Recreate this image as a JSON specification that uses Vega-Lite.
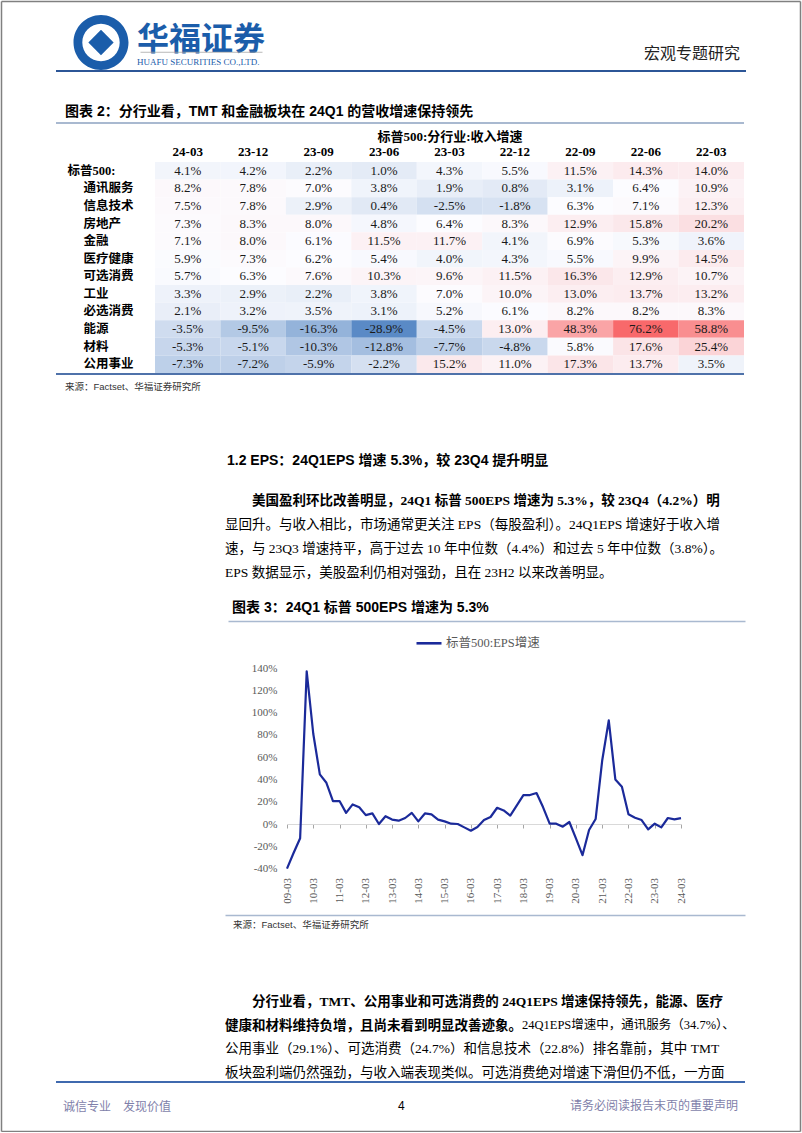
{
"$schema": "https://vega.github.io/schema/vega-lite/v6.json",
"background": "white",
"padding": {"left": 1, "top": 1, "right": 0, "bottom": 0},
"bounds": "flush",
"spacing": 0,
"config": {
  "view": {"stroke": null},
  "locale": {"number": {"decimal": ".", "thousands": ",", "grouping": [3], "currency": ["$", ""], "minus": "-"}},
  "title": {"orient": "bottom", "anchor": "start", "frame": "group", "baseline": "top", "limit": 1000, "offset": 0,
    "font": "Liberation Serif, Noto Sans CJK SC", "fontSize": 13.5, "fontWeight": "normal", "color": "#000000",
    "subtitleFont": "Liberation Serif, Noto Sans CJK SC", "subtitleFontSize": 13.5, "subtitleColor": "#000000",
    "subtitleLineHeight": 24, "lineHeight": 24}
},
"vconcat": [
  {"width": 744, "height": 0.001, "data": {"values": [{}]},
   "encoding": {
     "x": {"datum": 0.5, "type": "quantitative", "scale": {"domain": [0, 1], "range": [-55, 744]}},
     "y": {"datum": 0.5, "type": "quantitative", "scale": {"domain": [0, 1], "range": [0, 1130]}}
   },
   "layer": [
     {"mark": {"type": "point", "opacity": 0, "size": 0},
      "encoding": {
        "x": {"datum": 0.5, "type": "quantitative", "axis": {"orient": "top", "minExtent": 0, "maxExtent": 0, "domainColor": "#808080", "domainWidth": 1.5, "ticks": false, "labels": false, "grid": false, "title": null}},
        "y": {"datum": 0.5, "type": "quantitative", "axis": {"orient": "left", "offset": 55, "minExtent": 0, "maxExtent": 0, "domainColor": "#808080", "domainWidth": 1.5, "ticks": false, "labels": false, "grid": false, "title": null}}}},
     {"mark": {"type": "point", "opacity": 0, "size": 0},
      "encoding": {
        "x": {"datum": 0.5, "type": "quantitative", "axis": {"orient": "bottom", "offset": 1130, "minExtent": 0, "maxExtent": 0, "domainColor": "#808080", "domainWidth": 1.5, "ticks": false, "labels": false, "grid": false, "title": null}},
        "y": {"datum": 0.5, "type": "quantitative", "axis": {"orient": "right", "offset": 0, "minExtent": 0, "maxExtent": 0, "domainColor": "#808080", "domainWidth": 1.5, "ticks": false, "labels": false, "grid": false, "title": null}}}}
   ],
   "resolve": {"axis": {"x": "independent", "y": "independent"}}},
  {"width": 690, "height": 12, "data": {"values": []}, "mark": "rule", "encoding": {}},
  {"width": 690, "height": 0.001, "data": {"values": []}, "mark": "rule", "encoding": {},
   "title": {"text": "华福证券", "subtitle": "HUAFU SECURITIES CO.,LTD.", "dx": 81, "offset": 11.4, "font": "Noto Sans CJK SC", "fontSize": 32, "fontWeight": "bold", "color": "#1B5DAA", "subtitleFont": "Liberation Serif", "subtitleFontSize": 9, "subtitleColor": "#1B5DAA", "subtitlePadding": 1}},
  {"width": 90, "height": 55, "data": {"values": [{}]},
   "layer": [
     {"mark": {"type": "point", "shape": "M1,0A1,1,0,1,1,-1,0A1,1,0,1,1,1,0ZM0.68,0A0.68,0.68,0,1,0,-0.68,0A0.68,0.68,0,1,0,0.68,0ZM0,-0.46L0.46,0L0,0.46L-0.46,0Z", "filled": true, "size": 3025, "color": "#1B5DAA", "opacity": 1, "strokeWidth": 0},
      "encoding": {}},
     {"mark": {"type": "point", "opacity": 0, "size": 0},
      "encoding": {"x": {"datum": 0.5, "type": "quantitative", "scale": {"domain": [0, 1], "range": [84, 206]}, "axis": {"orient": "bottom", "offset": -18.25, "domainColor": "#A6A6A6", "domainWidth": 0.8, "ticks": false, "labels": false, "grid": false, "title": null}}}}
   ]},
  {"width": 690, "height": 2, "view": {"fill": "#2C5697", "stroke": null}, "data": {"values": []}, "mark": "rule", "encoding": {},
   "title": {"text": "宏观专题研究", "dx": 588, "offset": -25.6, "font": "Noto Sans CJK SC", "fontSize": 16, "color": "#222222"}},
  {"width": 690, "height": 50, "data": {"values": []}, "mark": "rule", "encoding": {},
   "title": {"text": "图表 2：分行业看，TMT 和金融板块在 24Q1 的营收增速保持领先", "dx": 9, "offset": -17.4, "font": "Liberation Sans, Noto Sans CJK SC", "fontSize": 14, "fontWeight": "bold"}},
  {"width": 688, "height": 2, "view": {"fill": "#A9B9D0", "stroke": null}, "data": {"values": []}, "mark": "rule", "encoding": {}},
  {"width": 688, "height": 38, "data": {"values": []}, "mark": "rule", "encoding": {}},
  {"width": 688, "height": 211,
   "data": {"values": [
    {"s":"标普500:","p":"24-03","v":0.041},{"s":"标普500:","p":"23-12","v":0.042},{"s":"标普500:","p":"23-09","v":0.022},{"s":"标普500:","p":"23-06","v":0.010},{"s":"标普500:","p":"23-03","v":0.043},{"s":"标普500:","p":"22-12","v":0.055},{"s":"标普500:","p":"22-09","v":0.115},{"s":"标普500:","p":"22-06","v":0.143},{"s":"标普500:","p":"22-03","v":0.140},
    {"s":"通讯服务","p":"24-03","v":0.082},{"s":"通讯服务","p":"23-12","v":0.078},{"s":"通讯服务","p":"23-09","v":0.070},{"s":"通讯服务","p":"23-06","v":0.038},{"s":"通讯服务","p":"23-03","v":0.019},{"s":"通讯服务","p":"22-12","v":0.008},{"s":"通讯服务","p":"22-09","v":0.031},{"s":"通讯服务","p":"22-06","v":0.064},{"s":"通讯服务","p":"22-03","v":0.109},
    {"s":"信息技术","p":"24-03","v":0.075},{"s":"信息技术","p":"23-12","v":0.078},{"s":"信息技术","p":"23-09","v":0.029},{"s":"信息技术","p":"23-06","v":0.004},{"s":"信息技术","p":"23-03","v":-0.025},{"s":"信息技术","p":"22-12","v":-0.018},{"s":"信息技术","p":"22-09","v":0.063},{"s":"信息技术","p":"22-06","v":0.071},{"s":"信息技术","p":"22-03","v":0.123},
    {"s":"房地产","p":"24-03","v":0.073},{"s":"房地产","p":"23-12","v":0.083},{"s":"房地产","p":"23-09","v":0.080},{"s":"房地产","p":"23-06","v":0.048},{"s":"房地产","p":"23-03","v":0.064},{"s":"房地产","p":"22-12","v":0.083},{"s":"房地产","p":"22-09","v":0.129},{"s":"房地产","p":"22-06","v":0.158},{"s":"房地产","p":"22-03","v":0.202},
    {"s":"金融","p":"24-03","v":0.071},{"s":"金融","p":"23-12","v":0.080},{"s":"金融","p":"23-09","v":0.061},{"s":"金融","p":"23-06","v":0.115},{"s":"金融","p":"23-03","v":0.117},{"s":"金融","p":"22-12","v":0.041},{"s":"金融","p":"22-09","v":0.069},{"s":"金融","p":"22-06","v":0.053},{"s":"金融","p":"22-03","v":0.036},
    {"s":"医疗健康","p":"24-03","v":0.059},{"s":"医疗健康","p":"23-12","v":0.073},{"s":"医疗健康","p":"23-09","v":0.062},{"s":"医疗健康","p":"23-06","v":0.054},{"s":"医疗健康","p":"23-03","v":0.040},{"s":"医疗健康","p":"22-12","v":0.043},{"s":"医疗健康","p":"22-09","v":0.055},{"s":"医疗健康","p":"22-06","v":0.099},{"s":"医疗健康","p":"22-03","v":0.145},
    {"s":"可选消费","p":"24-03","v":0.057},{"s":"可选消费","p":"23-12","v":0.063},{"s":"可选消费","p":"23-09","v":0.076},{"s":"可选消费","p":"23-06","v":0.103},{"s":"可选消费","p":"23-03","v":0.096},{"s":"可选消费","p":"22-12","v":0.115},{"s":"可选消费","p":"22-09","v":0.163},{"s":"可选消费","p":"22-06","v":0.129},{"s":"可选消费","p":"22-03","v":0.107},
    {"s":"工业","p":"24-03","v":0.033},{"s":"工业","p":"23-12","v":0.029},{"s":"工业","p":"23-09","v":0.022},{"s":"工业","p":"23-06","v":0.038},{"s":"工业","p":"23-03","v":0.070},{"s":"工业","p":"22-12","v":0.100},{"s":"工业","p":"22-09","v":0.130},{"s":"工业","p":"22-06","v":0.137},{"s":"工业","p":"22-03","v":0.132},
    {"s":"必选消费","p":"24-03","v":0.021},{"s":"必选消费","p":"23-12","v":0.032},{"s":"必选消费","p":"23-09","v":0.035},{"s":"必选消费","p":"23-06","v":0.031},{"s":"必选消费","p":"23-03","v":0.052},{"s":"必选消费","p":"22-12","v":0.061},{"s":"必选消费","p":"22-09","v":0.082},{"s":"必选消费","p":"22-06","v":0.082},{"s":"必选消费","p":"22-03","v":0.083},
    {"s":"能源","p":"24-03","v":-0.035},{"s":"能源","p":"23-12","v":-0.095},{"s":"能源","p":"23-09","v":-0.163},{"s":"能源","p":"23-06","v":-0.289},{"s":"能源","p":"23-03","v":-0.045},{"s":"能源","p":"22-12","v":0.130},{"s":"能源","p":"22-09","v":0.483},{"s":"能源","p":"22-06","v":0.762},{"s":"能源","p":"22-03","v":0.588},
    {"s":"材料","p":"24-03","v":-0.053},{"s":"材料","p":"23-12","v":-0.051},{"s":"材料","p":"23-09","v":-0.103},{"s":"材料","p":"23-06","v":-0.128},{"s":"材料","p":"23-03","v":-0.077},{"s":"材料","p":"22-12","v":-0.048},{"s":"材料","p":"22-09","v":0.058},{"s":"材料","p":"22-06","v":0.176},{"s":"材料","p":"22-03","v":0.254},
    {"s":"公用事业","p":"24-03","v":-0.073},{"s":"公用事业","p":"23-12","v":-0.072},{"s":"公用事业","p":"23-09","v":-0.059},{"s":"公用事业","p":"23-06","v":-0.022},{"s":"公用事业","p":"23-03","v":0.152},{"s":"公用事业","p":"22-12","v":0.110},{"s":"公用事业","p":"22-09","v":0.173},{"s":"公用事业","p":"22-06","v":0.137},{"s":"公用事业","p":"22-03","v":0.035}
   ]},
   "encoding": {
     "x": {"field": "p", "type": "nominal", "sort": ["24-03","23-12","23-09","23-06","23-03","22-12","22-09","22-06","22-03"],
           "scale": {"range": [99, 688], "paddingInner": 0, "paddingOuter": 0},
           "axis": {"orient": "top", "domain": false, "ticks": false, "labelPadding": 4, "labelAngle": 0, "labelFont": "Liberation Serif", "labelFontSize": 13, "labelFontWeight": "bold", "labelColor": "#000000",
                    "title": "标普500:分行业:收入增速", "titleFont": "Liberation Serif, Noto Sans CJK SC", "titleFontSize": 13, "titleFontWeight": "bold", "titleColor": "#000000", "titlePadding": 2}}
   },
   "layer": [
     {"mark": {"type": "rect"},
      "encoding": {
        "y": {"field": "s", "type": "nominal", "sort": ["标普500:","通讯服务","信息技术","房地产","金融","医疗健康","可选消费","工业","必选消费","能源","材料","公用事业"],
              "scale": {"paddingInner": 0, "paddingOuter": 0},
              "axis": {"orient": "left", "domain": false, "ticks": false, "labelAlign": "left", "labelPadding": -11, "labelFont": "Liberation Serif, Noto Sans CJK SC", "labelFontSize": 12.5, "labelFontWeight": "bold", "labelColor": "#000000", "title": null,
                       "labelExpr": "datum.value == '标普500:' ? datum.value : ''"}},
        "color": {"field": "v", "type": "quantitative", "scale": {"domain": [-0.289, 0.063, 0.762], "range": ["#5A8AC6", "#FCFCFF", "#F8696B"], "interpolate": "rgb"}, "legend": null}}},
     {"mark": {"type": "text", "font": "Liberation Serif", "fontSize": 13, "color": "#1a1a1a"},
      "encoding": {
        "y": {"field": "s", "type": "nominal", "sort": ["标普500:","通讯服务","信息技术","房地产","金融","医疗健康","可选消费","工业","必选消费","能源","材料","公用事业"],
              "scale": {"paddingInner": 0, "paddingOuter": 0},
              "axis": {"orient": "left", "domain": false, "ticks": false, "labelAlign": "left", "labelPadding": -27, "labelFont": "Liberation Serif, Noto Sans CJK SC", "labelFontSize": 12.5, "labelFontWeight": "bold", "labelColor": "#000000", "title": null,
                       "labelExpr": "datum.value == '标普500:' ? '' : datum.value"}},
        "text": {"field": "v", "type": "quantitative", "format": ".1%"}}}
   ],
   "resolve": {"axis": {"y": "independent"}}},
  {"width": 688, "height": 2, "view": {"fill": "#4F72AA", "stroke": null}, "data": {"values": []}, "mark": "rule", "encoding": {},
   "title": {"text": "来源：Factset、华福证券研究所", "dx": 9, "offset": 7, "font": "Liberation Sans, Noto Sans CJK SC", "fontSize": 9.5, "color": "#333333"}},
  {"width": 690, "height": 79, "data": {"values": []}, "mark": "rule", "encoding": {},
   "title": {"text": "1.2 EPS：24Q1EPS 增速 5.3%，较 23Q4 提升明显", "dx": 171, "offset": -0.5, "font": "Liberation Sans, Noto Sans CJK SC", "fontSize": 14, "fontWeight": "bold"}},
  {"width": 690, "height": 40, "data": {"values": []}, "mark": "rule", "encoding": {},
   "title": {"text": "美国盈利环比改善明显，24Q1 标普 500EPS 增速为 5.3%，较 23Q4（4.2%）明",
             "dx": 196, "offset": 0.1, "fontSize": 13.5, "fontWeight": "bold"}},
  {"width": 690, "height": 0.001, "data": {"values": []}, "mark": "rule", "encoding": {},
   "title": {"text": ["显回升。与收入相比，市场通常更关注 EPS（每股盈利）。24Q1EPS 增速好于收入增", "速，与 23Q3 增速持平，高于过去 10 年中位数（4.4%）和过去 5 年中位数（3.8%）。", "EPS 数据显示，美股盈利仍相对强劲，且在 23H2 以来改善明显。"],
             "dx": 169, "offset": 24.1, "fontSize": 13.5, "lineHeight": 24}},
  {"width": 690, "height": 126, "data": {"values": []}, "mark": "rule", "encoding": {},
   "title": {"text": "图表 3：24Q1 标普 500EPS 增速为 5.3%", "dx": 176, "offset": -19.9, "font": "Liberation Sans, Noto Sans CJK SC", "fontSize": 14, "fontWeight": "bold"}},
  {"width": 689, "height": 0.001, "data": {"values": [{}]}, "mark": {"type": "point", "opacity": 0, "size": 0},
   "encoding": {"x": {"datum": 0.5, "type": "quantitative", "scale": {"domain": [0, 1], "range": [172, 689]}, "axis": {"orient": "top", "domainColor": "#A9B9D0", "domainWidth": 1.5, "ticks": false, "labels": false, "grid": false, "title": null}}}},
  {"width": 690, "height": 46, "data": {"values": []}, "mark": "rule", "encoding": {}},
  {"width": 625, "height": 200.6,
   "data": {"values": [
    {"q":"09-03","v":-0.40},{"q":"09-06","v":-0.26},{"q":"09-09","v":-0.128},{"q":"09-12","v":1.37},
    {"q":"10-03","v":0.81},{"q":"10-06","v":0.445},{"q":"10-09","v":0.37},{"q":"10-12","v":0.206},
    {"q":"11-03","v":0.206},{"q":"11-06","v":0.10},{"q":"11-09","v":0.176},{"q":"11-12","v":0.15},
    {"q":"12-03","v":0.08},{"q":"12-06","v":0.095},{"q":"12-09","v":0.0},{"q":"12-12","v":0.07},
    {"q":"13-03","v":0.04},{"q":"13-06","v":0.03},{"q":"13-09","v":0.054},{"q":"13-12","v":0.10},
    {"q":"14-03","v":0.024},{"q":"14-06","v":0.095},{"q":"14-09","v":0.087},{"q":"14-12","v":0.04},
    {"q":"15-03","v":0.024},{"q":"15-06","v":0.003},{"q":"15-09","v":0.0},{"q":"15-12","v":-0.03},
    {"q":"16-03","v":-0.06},{"q":"16-06","v":-0.027},{"q":"16-09","v":0.036},{"q":"16-12","v":0.063},
    {"q":"17-03","v":0.146},{"q":"17-06","v":0.122},{"q":"17-09","v":0.075},{"q":"17-12","v":0.167},
    {"q":"18-03","v":0.26},{"q":"18-06","v":0.26},{"q":"18-09","v":0.278},{"q":"18-12","v":0.15},
    {"q":"19-03","v":0.003},{"q":"19-06","v":0.003},{"q":"19-09","v":-0.024},{"q":"19-12","v":0.018},
    {"q":"20-03","v":-0.128},{"q":"20-06","v":-0.28},{"q":"20-09","v":-0.054},{"q":"20-12","v":0.045},
    {"q":"21-03","v":0.57},{"q":"21-06","v":0.93},{"q":"21-09","v":0.40},{"q":"21-12","v":0.334},
    {"q":"22-03","v":0.087},{"q":"22-06","v":0.057},{"q":"22-09","v":0.036},{"q":"22-12","v":-0.048},
    {"q":"23-03","v":0.003},{"q":"23-06","v":-0.03},{"q":"23-09","v":0.054},{"q":"23-12","v":0.042},
    {"q":"24-03","v":0.053}
   ]},
   "mark": {"type": "line", "strokeWidth": 2.2, "strokeJoin": "round"},
   "encoding": {
     "x": {"field": "q", "type": "ordinal", "sort": null, "scale": {"type": "point", "range": [231, 625], "padding": 0},
           "axis": {"orient": "bottom", "offset": -44.6, "values": ["09-03","10-03","11-03","12-03","13-03","14-03","15-03","16-03","17-03","18-03","19-03","20-03","21-03","22-03","23-03","24-03"],
                    "labelAngle": -90, "labelPadding": 49.5, "labelOverlap": false, "ticks": true, "tickSize": 4, "tickColor": "#A6A6A6", "domain": true, "domainColor": "#D9D9D9", "domainWidth": 1,
                    "labelFont": "Liberation Serif", "labelFontSize": 11, "labelColor": "#595959", "title": null, "grid": false}},
     "y": {"field": "v", "type": "quantitative", "scale": {"domain": [-0.4, 1.4], "nice": false, "zero": false},
           "axis": {"orient": "left", "offset": -231, "values": [-0.4, -0.2, 0, 0.2, 0.4, 0.6, 0.8, 1, 1.2, 1.4], "format": ".0%",
                    "labelFont": "Liberation Serif", "labelFontSize": 11, "labelColor": "#595959", "labelPadding": 10, "domain": false, "ticks": false, "grid": false, "title": null}},
     "color": {"datum": "标普500:EPS增速", "type": "nominal", "scale": {"range": ["#1B2A9A"]},
               "legend": {"orient": "none", "legendX": 359, "legendY": -38.7, "direction": "horizontal", "title": null, "symbolType": "stroke", "symbolSize": 625, "symbolStrokeWidth": 2.6,
                          "labelFont": "Liberation Serif, Noto Sans CJK SC", "labelFontSize": 12.5, "labelColor": "#595959", "labelOffset": 3, "padding": 0}}
   }},
  {"width": 690, "height": 46, "data": {"values": []}, "mark": "rule", "encoding": {}},
  {"width": 689, "height": 0.001, "data": {"values": [{}]}, "mark": {"type": "point", "opacity": 0, "size": 0},
   "encoding": {"x": {"datum": 0.5, "type": "quantitative", "scale": {"domain": [0, 1], "range": [169, 689]}, "axis": {"orient": "top", "domainColor": "#A9B9D0", "domainWidth": 1.5, "ticks": false, "labels": false, "grid": false, "title": null}}},
   "title": {"text": "来源：Factset、华福证券研究所", "dx": 177, "offset": 4.5, "font": "Liberation Sans, Noto Sans CJK SC", "fontSize": 9.5, "color": "#333333"}},
  {"width": 690, "height": 79, "data": {"values": []}, "mark": "rule", "encoding": {},
   "title": {"text": "分行业看，TMT、公用事业和可选消费的 24Q1EPS 增速保持领先，能源、医疗",
             "dx": 196, "offset": 0.3, "fontSize": 13.5, "fontWeight": "bold"}},
  {"width": 690, "height": 0.001, "data": {"values": []}, "mark": "rule", "encoding": {},
   "title": {"text": "健康和材料维持负增，且尚未看到明显改善迹象。", "dx": 169, "offset": 24.3, "fontSize": 13.5, "fontWeight": "bold"}},
  {"width": 690, "height": 0.001, "data": {"values": []}, "mark": "rule", "encoding": {},
   "title": {"text": "24Q1EPS增速中，通讯服务（34.7%）、", "dx": 466, "offset": 22.75, "fontSize": 12.5}},
  {"width": 690, "height": 0.001, "data": {"values": []}, "mark": "rule", "encoding": {},
   "title": {"text": ["公用事业（29.1%）、可选消费（24.7%）和信息技术（22.8%）排名靠前，其中 TMT", "板块盈利端仍然强劲，与收入端表现类似。可选消费绝对增速下滑但仍不低，一方面"],
             "dx": 169, "offset": 45.3, "fontSize": 13.5, "lineHeight": 24}},
  {"width": 690, "height": 83, "data": {"values": []}, "mark": "rule", "encoding": {}},
  {"width": 689, "height": 2, "view": {"fill": "#3F69AE", "stroke": null}, "data": {"values": []}, "mark": "rule", "encoding": {},
   "title": {"text": "诚信专业\u3000发现价值", "dx": 7, "offset": 19, "font": "Noto Sans CJK SC", "fontSize": 12, "color": "#7F7FAA"}},
  {"width": 690, "height": 0.001, "data": {"values": []}, "mark": "rule", "encoding": {},
   "title": {"text": "4", "dx": 342, "offset": 18, "font": "Liberation Sans", "fontSize": 12, "color": "#000000"}},
  {"width": 690, "height": 0.001, "data": {"values": []}, "mark": "rule", "encoding": {},
   "title": {"text": "请务必阅读报告末页的重要声明", "dx": 514, "offset": 17, "font": "Noto Sans CJK SC", "fontSize": 12, "color": "#7F7FAA"}}
]
}
